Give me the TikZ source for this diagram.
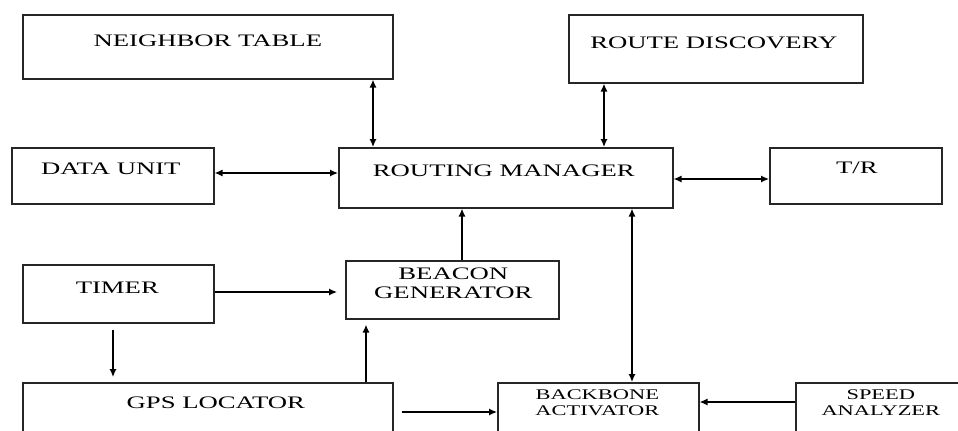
\documentclass[tikz,border=0pt]{standalone}
\usepackage{fontspec}
\usepackage{tikz}
\usetikzlibrary{arrows.meta,positioning,calc}
\newfontfamily\boxfont[FakeStretch=1.52]{Liberation Serif}

\begin{document}
\begin{tikzpicture}[x=0.02cm,y=-0.02cm,
  blk/.style={draw=black!85,line width=0.95pt,inner sep=0pt,anchor=north west},
  lbl/.style={inner sep=0pt,anchor=base,align=center,font=\boxfont\fontsize{10}{10.8}\selectfont},
  sml/.style={inner sep=0pt,anchor=base,align=center,font=\boxfont\fontsize{8.4}{9.1}\selectfont},
  one/.style={-{Latex[length=4.5pt,width=4pt]},line width=0.75pt},
  two/.style={{Latex[length=4.5pt,width=4pt]}-{Latex[length=4.5pt,width=4pt]},line width=0.75pt}]
\useasboundingbox (0,0) rectangle (958,430);
\clip (0,0) rectangle (958,430);
% boxes
\node[blk,minimum width=7.4cm,minimum height=1.28cm] (nbr) at (22,14) {};
\node[blk,minimum width=5.88cm,minimum height=1.36cm] (rdisc) at (568,14) {};
\node[blk,minimum width=4.04cm,minimum height=1.12cm] (data) at (11,147) {};
\node[blk,minimum width=6.68cm,minimum height=1.2cm] (rman) at (338,147) {};
\node[blk,minimum width=3.44cm,minimum height=1.12cm] (tr) at (769,147) {};
\node[blk,minimum width=3.82cm,minimum height=1.16cm] (timer) at (22,264) {};
\node[blk,minimum width=4.26cm,minimum height=1.16cm] (beacon) at (345,260) {};
\node[blk,minimum width=7.4cm,minimum height=1.4cm] (gps) at (22,382) {};
\node[blk,minimum width=4.02cm,minimum height=1.4cm] (bbone) at (497,382) {};
\node[blk,minimum width=3.52cm,minimum height=1.4cm] (speed) at (795,382) {};
% texts (two-line ones sit on their last baseline)
\node[lbl] (nbrT) at ($(nbr.north)+(0,32)$) {NEIGHBOR TABLE};
\node[lbl] (rdiscT) at ($(rdisc.north)+(-2,34)$) {ROUTE DISCOVERY};
\node[lbl] (dataT) at ($(data.north)+(-2,27)$) {DATA UNIT};
\node[lbl] (rmanT) at ($(rman.north)+(-2,29)$) {ROUTING MANAGER};
\node[lbl] (trT) at ($(tr.north)+(1,26)$) {T/R};
\node[lbl] (timerT) at ($(timer.north)+(-1,29)$) {TIMER};
\node[lbl] (beaconT) at ($(beacon.north)+(1,38)$) {BEACON\\GENERATOR};
\node[lbl] (gpsT) at ($(gps.north)+(8,26)$) {GPS LOCATOR};
\node[sml] (bboneT) at ($(bbone.north)+(-1,33)$) {BACKBONE\\ACTIVATOR};
\node[sml] (speedT) at ($(speed.north)+(-3,33)$) {SPEED\\ANALYZER};
% connectors
\draw[two] ($(rman.north west)+(35,0)$) -- ($(nbr.south west)+(351,0)$);
\draw[two] ($(rman.north west)+(266,0)$) -- ($(rdisc.south west)+(36,0)$);
\draw[two] ($(data.north east)+(0,26)$) -- ($(rman.north west)+(0,26)$);
\draw[two] ($(rman.north east)+(0,32)$) -- ($(tr.north west)+(0,32)$);
\draw[one] ($(beacon.north west)+(117,0)$) -- ($(rman.south west)+(124,0)$);
\draw[one] ($(timer.north east)+(0,28)$) -- ($(beacon.north west)+(-8,32)$);
\draw[one] ($(timer.south west)+(91,6)$) -- ($(gps.north west)+(91,-5)$);
\draw[one] ($(gps.north west)+(344,0)$) -- ($(beacon.south west)+(21,5)$);
\draw[one] ($(gps.north east)+(8,30)$) -- ($(bbone.north west)+(0,30)$);
\draw[two] ($(rman.south west)+(294,0)$) -- ($(bbone.north west)+(135,0)$);
\draw[one] ($(speed.north west)+(0,20)$) -- ($(bbone.north east)+(0,20)$);
\end{tikzpicture}
\end{document}
